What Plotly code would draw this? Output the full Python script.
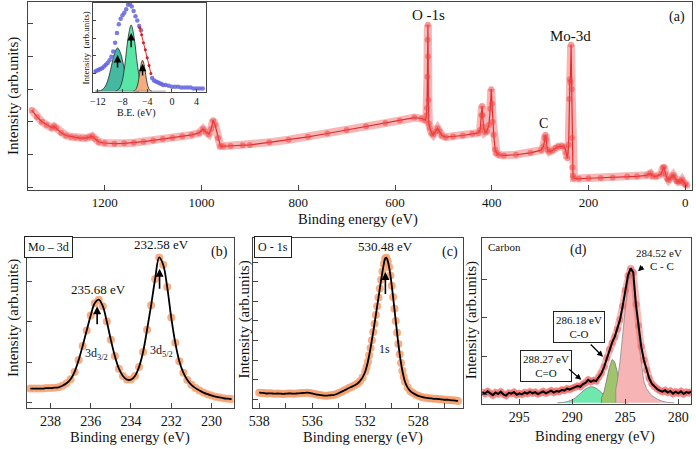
import plotly.graph_objects as go

W, H = 696, 449
FONT = "'Liberation Serif', 'Times New Roman', Times, serif"


def px(x):
    return x / W


def py(y):
    return 1 - y / H


# ---------------- Panel (a): survey spectrum ----------------
survey_be = [1351, 1340, 1330, 1320, 1310, 1305, 1300, 1290, 1280, 1270, 1260, 1250, 1240,
             1232, 1226, 1220, 1212, 1200, 1180, 1160, 1140, 1120, 1100, 1080, 1060, 1040,
             1020, 1005, 997, 992, 985, 980, 976, 972, 966, 961, 955, 940, 915, 900, 860,
             820, 780, 740, 700, 660, 620, 590, 560, 545, 537, 535, 534, 533, 532.5, 532,
             531.5, 531, 530, 528, 524, 521, 516, 512, 508, 503, 495, 480, 460, 440, 428,
             424, 421, 420, 419, 417, 414, 410, 406, 403, 401, 399.5, 398, 396, 393, 390,
             385, 375, 350, 320, 298, 293, 290, 289, 287.5, 285, 281, 275, 268, 262, 255,
             249, 246, 243.5, 241, 239.5, 238.5, 237.5, 236, 235, 234, 233, 232, 230, 220,
             200, 175, 150, 120, 100, 80, 72, 68, 60, 50, 46, 44, 41, 37, 34, 29, 25, 22,
             18, 14, 10, 7, 4, 0, -4]
survey_int = [2.36, 2.15, 2.00, 1.90, 1.82, 1.86, 1.80, 1.66, 1.58, 1.54, 1.52, 1.50, 1.50,
              1.53, 1.56, 1.48, 1.38, 1.35, 1.33, 1.34, 1.36, 1.39, 1.43, 1.47, 1.51, 1.56,
              1.60, 1.66, 1.78, 1.70, 1.62, 1.78, 2.05, 1.90, 1.50, 1.26, 1.25, 1.26, 1.28,
              1.29, 1.37, 1.45, 1.54, 1.64, 1.75, 1.86, 1.96, 2.04, 2.13, 2.10, 2.05, 2.20,
              2.42, 3.38, 4.51, 4.97, 4.00, 2.67, 1.95, 1.80, 1.65, 1.60, 1.70, 1.80, 1.70,
              1.58, 1.53, 1.55, 1.58, 1.63, 1.66, 1.75, 2.20, 2.48, 2.20, 1.85, 1.68, 1.72,
              1.90, 2.40, 3.00, 2.55, 2.00, 1.60, 1.15, 1.04, 0.99, 0.97, 0.99, 1.05, 1.13,
              1.25, 1.50, 1.60, 1.45, 1.15, 1.08, 1.12, 1.20, 1.24, 1.25, 1.22, 1.05, 0.88,
              1.30, 2.70, 3.30, 3.20, 4.36, 3.00, 1.50, 0.60, 0.35, 0.27, 0.26, 0.27, 0.28,
              0.29, 0.32, 0.33, 0.36, 0.42, 0.34, 0.33, 0.40, 0.58, 0.62, 0.40, 0.25, 0.22,
              0.30, 0.37, 0.30, 0.18, 0.16, 0.18, 0.23, 0.15, 0.08, 0.05]
survey_xticks = [1200, 1000, 800, 600, 400, 200, 0]

# ---------------- Inset: valence band ----------------
vb_be = [-12.5, -12.2, -11.9, -11.6, -11.3, -11.0, -10.7, -10.4, -10.1, -9.8, -9.5, -9.2,
         -8.9, -8.6, -8.3, -8.0, -7.7, -7.4, -7.1, -6.8, -6.5, -6.2, -5.9, -5.6, -5.3,
         -5.0, -3.2, -2.9, -2.6, -2.3, -2.0, -1.7, -1.4, -1.0, -0.5, 0.0, 0.5, 1.0, 1.5,
         2.0, 2.5, 3.0, 3.5, 4.0, 4.5, 5.0]
vb_int = [0.22, 0.23, 0.24, 0.25, 0.26, 0.28, 0.30, 0.32, 0.35, 0.39, 0.45, 0.55, 0.66,
          0.76, 0.82, 0.86, 0.89, 0.93, 0.98, 0.99, 0.96, 0.91, 0.85, 0.80, 0.74, 0.69,
          0.15, 0.12, 0.11, 0.10, 0.09, 0.08, 0.07, 0.07, 0.06, 0.05, 0.05, 0.05, 0.04,
          0.04, 0.04, 0.04, 0.03, 0.03, 0.03, 0.03]
edge_be = [-5.2, -4.9, -4.6, -4.3, -4.0, -3.7, -3.4]
edge_int = [0.72, 0.64, 0.55, 0.47, 0.38, 0.29, 0.20]
vb_peak1_be = [-12.3, -11.8, -11.3, -10.8, -10.3, -9.8, -9.3, -8.8, -8.3, -7.8, -7.3, -6.8,
               -6.3, -5.8, -5.3]
vb_peak1_int = [0.001, 0.003, 0.015, 0.053, 0.141, 0.282, 0.427, 0.49, 0.427, 0.282, 0.141,
                0.053, 0.015, 0.003, 0.001]
vb_peak2_be = [-9.1, -8.6, -8.1, -7.6, -7.1, -6.6, -6.1, -5.6, -5.1, -4.6, -4.1]
vb_peak2_int = [0.003, 0.021, 0.101, 0.308, 0.60, 0.75, 0.60, 0.308, 0.101, 0.021, 0.003]
vb_peak3_be = [-6.25, -6.0, -5.75, -5.5, -5.25, -5.0, -4.75, -4.5, -4.25, -4.0, -3.75, -3.5,
               -3.25]
vb_peak3_int = [0.001, 0.007, 0.030, 0.087, 0.189, 0.30, 0.35, 0.30, 0.189, 0.087, 0.030,
                0.007, 0.001]
vb_xticks = [-12, -8, -4, 0, 4]

# ---------------- Panel (b): Mo 3d ----------------
mo_be = [239.0, 238.8, 238.6, 238.4, 238.2, 238.0, 237.8, 237.6, 237.4, 237.2, 237.0, 236.8,
         236.6, 236.4, 236.2, 236.0, 235.8, 235.6, 235.4, 235.2, 235.0, 234.8, 234.6, 234.4,
         234.2, 234.0, 233.8, 233.6, 233.4, 233.2, 233.0, 232.8, 232.6, 232.4, 232.2, 232.0,
         231.8, 231.6, 231.4, 231.2, 231.0, 230.8, 230.6, 230.4, 230.2, 230.0, 229.8, 229.6,
         229.4, 229.2, 229.0]
mo_int = [0.35, 0.35, 0.35, 0.35, 0.36, 0.36, 0.37, 0.38, 0.42, 0.48, 0.58, 0.76, 1.05,
          1.40, 1.78, 2.15, 2.45, 2.54, 2.38, 2.00, 1.55, 1.15, 0.84, 0.66, 0.57, 0.57, 0.66,
          0.88, 1.25, 1.80, 2.40, 3.05, 3.58, 3.40, 2.85, 2.10, 1.48, 1.02, 0.74, 0.56, 0.44,
          0.36, 0.30, 0.25, 0.21, 0.18, 0.15, 0.13, 0.11, 0.10, 0.09]
mo_xticks = [238, 236, 234, 232, 230]

# ---------------- Panel (c): O 1s ----------------
o_be = [540.0, 539.8, 539.6, 539.4, 539.2, 539.0, 538.8, 538.6, 538.4, 538.2, 538.0, 537.8,
        537.6, 537.4, 537.2, 537.0, 536.8, 536.6, 536.4, 536.2, 536.0, 535.8, 535.6, 535.4,
        535.2, 535.0, 534.8, 534.6, 534.4, 534.2, 534.0, 533.8, 533.6, 533.4, 533.2, 533.0,
        532.8, 532.6, 532.4, 532.2, 532.0, 531.9, 531.8, 531.7, 531.6, 531.5, 531.4, 531.3,
        531.2, 531.1, 531.0, 530.9, 530.8, 530.7, 530.6, 530.5, 530.4, 530.3, 530.2, 530.1,
        530.0, 529.9, 529.8, 529.7, 529.6, 529.5, 529.4, 529.3, 529.2, 529.1, 529.0, 528.8,
        528.6, 528.4, 528.2, 528.0, 527.8, 527.6, 527.4, 527.2, 527.0, 526.8, 526.6, 526.4,
        526.2, 526.0, 525.8, 525.6, 525.4, 525.2, 525.0]
o_int = [0.34, 0.33, 0.32, 0.30, 0.31, 0.30, 0.29, 0.30, 0.29, 0.28, 0.29, 0.30, 0.30, 0.29,
         0.30, 0.31, 0.32, 0.33, 0.34, 0.33, 0.30, 0.27, 0.24, 0.22, 0.20, 0.19, 0.20, 0.21,
         0.22, 0.26, 0.32, 0.38, 0.45, 0.52, 0.59, 0.65, 0.72, 0.80, 0.93, 1.12, 1.42, 1.65,
         1.92, 2.25, 2.62, 3.02, 3.43, 3.86, 4.30, 4.75, 5.20, 5.65, 6.10, 6.52, 6.90, 7.18,
         7.22, 7.05, 6.75, 6.32, 5.80, 5.22, 4.62, 4.00, 3.40, 2.82, 2.30, 1.85, 1.46, 1.15,
         0.90, 0.60, 0.42, 0.32, 0.24, 0.18, 0.14, 0.10, 0.08, 0.06, 0.05, 0.03, 0.03, 0.01,
         0.00, -0.02, -0.02, -0.04, -0.05, -0.06, -0.08]
o_tickvals = [540, 536, 532, 528]
o_ticktext = ["538", "536", "532", "528"]
o_minorvals = [538, 534, 530, 526]

# ---------------- Panel (d): C 1s ----------------
c_be = [298.5, 298.25, 298.0, 297.75, 297.5, 297.25, 297.0, 296.75, 296.5, 296.25, 296.0,
        295.75, 295.5, 295.25, 295.0, 294.75, 294.5, 294.25, 294.0, 293.75, 293.5, 293.25,
        293.0, 292.75, 292.5, 292.25, 292.0, 291.75, 291.5, 291.25, 291.0, 290.75, 290.5,
        290.25, 290.0, 289.75, 289.5, 289.25, 289.0, 288.75, 288.5, 288.25, 288.0, 287.75,
        287.5, 287.25, 287.0, 286.75, 286.5, 286.25, 286.0, 285.75, 285.5, 285.25, 285.0,
        284.75, 284.5, 284.25, 284.0, 283.75, 283.5, 283.25, 283.0, 282.75, 282.5, 282.25,
        282.0, 281.75, 281.5, 281.25, 281.0, 280.75, 280.5, 280.25, 280.0, 279.75, 279.5,
        279.25, 279.0, 278.8]
c_int = [0.06, 0.02, 0.08, 0.03, -0.02, 0.05, 0.01, 0.07, 0.00, -0.03, 0.04, 0.02, 0.06,
         -0.01, 0.03, 0.00, 0.05, 0.02, 0.07, 0.03, 0.06, 0.01, 0.04, 0.08, 0.03, 0.06, 0.10,
         0.05, 0.09, 0.07, 0.12, 0.10, 0.15, 0.13, 0.17, 0.19, 0.22, 0.20, 0.27, 0.30, 0.38,
         0.33, 0.37, 0.35, 0.45, 0.55, 0.72, 0.95, 1.18, 1.35, 1.50, 1.70, 1.95, 2.30, 2.72,
         3.10, 3.29, 3.18, 2.35, 1.80, 1.25, 0.90, 0.64, 0.42, 0.28, 0.20, 0.14, 0.10, 0.07,
         0.11, 0.05, 0.09, 0.02, 0.07, 0.03, 0.08, 0.01, 0.06, 0.04, 0.07]
cc_be = [285.9, 285.9, 285.75, 285.5, 285.25, 285.0, 284.75, 284.5, 284.25, 284.0, 283.75,
         283.5, 283.25, 283.0, 282.75, 282.5, 282.0, 281.5, 281.0, 280.4]
cc_int = [-0.22, 0.13, 0.34, 0.85, 1.55, 2.31, 2.93, 3.16, 2.93, 2.31, 1.55, 0.85, 0.34,
          0.15, 0.05, -0.03, -0.12, -0.18, -0.21, -0.22]
co_be = [287.25, 287.25, 287.0, 286.75, 286.5, 286.25, 286.0, 285.75, 285.5, 285.25, 285.0,
         285.0]
co_int = [-0.22, -0.10, 0.08, 0.375, 0.71, 0.91, 0.85, 0.57, 0.23, -0.02, -0.15, -0.22]
cdo_be = [291.4, 290.7, 290.2, 289.7, 289.2, 288.7, 288.2, 287.7, 287.2, 286.7, 286.2,
          285.7, 285.2, 284.7]
cdo_int = [-0.22, -0.202, -0.163, -0.084, 0.035, 0.15, 0.20, 0.15, 0.035, -0.084, -0.163,
           -0.202, -0.215, -0.22]
c_xticks = [295, 290, 285, 280]

fig = go.Figure()

# survey
fig.add_trace(go.Scatter(x=survey_be, y=survey_int, mode="lines",
                         line=dict(color="rgba(240,95,95,0.45)", width=8),
                         xaxis="x", yaxis="y", hoverinfo="skip"))
fig.add_trace(go.Scatter(x=survey_be, y=survey_int, mode="lines+markers",
                         line=dict(color="#e52c2c", width=1.2),
                         marker=dict(size=6, color="rgba(238,70,70,0.55)"),
                         xaxis="x", yaxis="y"))

# inset
fig.add_trace(go.Scatter(x=vb_peak1_be, y=vb_peak1_int, mode="lines", fill="toself",
                         fillcolor="#45b8a2", line=dict(color="#222", width=0.8, shape="spline"),
                         xaxis="x2", yaxis="y2"))
fig.add_trace(go.Scatter(x=vb_peak2_be, y=vb_peak2_int, mode="lines", fill="toself",
                         fillcolor="#58e6a6", line=dict(color="#222", width=0.8, shape="spline"),
                         xaxis="x2", yaxis="y2"))
fig.add_trace(go.Scatter(x=vb_peak3_be, y=vb_peak3_int, mode="lines", fill="toself",
                         fillcolor="#f5ab80", line=dict(color="#222", width=0.8, shape="spline"),
                         xaxis="x2", yaxis="y2"))
fig.add_trace(go.Scatter(x=[-12.5, -1.0], y=[0.0, 0.0], mode="lines",
                         line=dict(color="#888", width=0.8), xaxis="x2", yaxis="y2"))
fig.add_trace(go.Scatter(x=vb_be, y=vb_int, mode="markers",
                         marker=dict(size=4.5, color="rgba(100,100,225,0.85)"),
                         xaxis="x2", yaxis="y2"))
fig.add_trace(go.Scatter(x=edge_be, y=edge_int, mode="lines+markers",
                         line=dict(color="#e03030", width=1),
                         marker=dict(size=3, color="#d02020"),
                         xaxis="x2", yaxis="y2"))

# (b)
fig.add_trace(go.Scatter(x=mo_be, y=mo_int, mode="markers",
                         marker=dict(size=8, color="rgba(244,160,110,0.85)"),
                         xaxis="x3", yaxis="y3"))
fig.add_trace(go.Scatter(x=mo_be, y=mo_int, mode="lines",
                         line=dict(color="black", width=1.8, shape="spline"),
                         xaxis="x3", yaxis="y3"))

# (c)
fig.add_trace(go.Scatter(x=o_be, y=o_int, mode="markers",
                         marker=dict(size=8, color="rgba(244,160,110,0.85)"),
                         xaxis="x4", yaxis="y4"))
fig.add_trace(go.Scatter(x=o_be, y=o_int, mode="lines",
                         line=dict(color="black", width=1.8, shape="spline"),
                         xaxis="x4", yaxis="y4"))

# (d)
fig.add_trace(go.Scatter(x=cdo_be, y=cdo_int, mode="lines", fill="toself",
                         fillcolor="#6ee8ad", line=dict(color="#777", width=0.8, shape="spline"),
                         xaxis="x5", yaxis="y5"))
fig.add_trace(go.Scatter(x=co_be, y=co_int, mode="lines", fill="toself",
                         fillcolor="#9fc46c", line=dict(color="#777", width=0.8),
                         xaxis="x5", yaxis="y5"))
fig.add_trace(go.Scatter(x=cc_be, y=cc_int, mode="lines", fill="toself",
                         fillcolor="#f7b4b4", line=dict(color="#888", width=0.8),
                         xaxis="x5", yaxis="y5"))
fig.add_trace(go.Scatter(x=c_be, y=c_int, mode="lines+markers",
                         line=dict(color="rgba(240,100,100,0.45)", width=7),
                         marker=dict(size=7, color="rgba(240,90,90,0.5)"),
                         xaxis="x5", yaxis="y5"))
fig.add_trace(go.Scatter(x=c_be, y=c_int, mode="lines",
                         line=dict(color="black", width=2),
                         xaxis="x5", yaxis="y5"))

axcol = "#444"
base_x = dict(showline=True, mirror=True, linecolor=axcol, linewidth=1, ticks="inside",
              ticklen=5, tickcolor=axcol, showgrid=False, zeroline=False,
              tickfont=dict(family=FONT, size=14, color="#111"))
base_y = dict(showline=True, mirror=True, linecolor=axcol, linewidth=1, ticks="inside",
              ticklen=5, tickcolor=axcol, showgrid=False, zeroline=False,
              showticklabels=False)

fig.update_layout(
    width=W, height=H, margin=dict(l=0, r=0, t=0, b=0),
    paper_bgcolor="white", plot_bgcolor="white", showlegend=False,
    font=dict(family=FONT, color="#111"),
    xaxis=dict(base_x, domain=[px(24), px(692)], range=[1359, -14], tickvals=survey_xticks,
               anchor="y", tickfont=dict(family=FONT, size=13, color="#111")),
    yaxis=dict(base_y, domain=[py(190), py(2)], range=[-0.09, 5.67], tickvals=[0, 1, 2, 3, 4, 5],
               anchor="x"),
    xaxis2=dict(base_x, domain=[px(90), px(203)], range=[-12.7, 5.5], tickvals=vb_xticks,
                ticklen=3, anchor="y2", tickfont=dict(family=FONT, size=10, color="#111")),
    yaxis2=dict(base_y, domain=[py(92), py(3)], range=[-0.01, 1.0],
                tickvals=[0, 0.2, 0.4, 0.6, 0.8], ticklen=3, anchor="x2"),
    xaxis3=dict(base_x, domain=[px(23), px(231)], range=[239.17, 228.9], tickvals=mo_xticks,
                anchor="y3"),
    yaxis3=dict(base_y, domain=[py(408), py(238)], range=[-0.13, 4.06], tickvals=[0, 1, 2, 3],
                anchor="x3"),
    xaxis4=dict(base_x, domain=[px(250), px(462)], range=[540.5, 524.6], tickvals=o_tickvals,
                ticktext=o_ticktext, anchor="y4",
                minor=dict(tickmode="array", tickvals=o_minorvals, ticks="inside", ticklen=5,
                           tickcolor=axcol)),
    yaxis4=dict(base_y, domain=[py(408), py(238)], range=[-0.44, 8.23],
                tickvals=[0, 1, 2, 3, 4, 5, 6, 7], anchor="x4"),
    xaxis5=dict(base_x, domain=[px(481), px(691)], range=[298.5, 278.8], tickvals=c_xticks,
                anchor="y5"),
    yaxis5=dict(base_y, domain=[py(404), py(238)], range=[-0.25, 4.08], tickvals=[0, 1, 2, 3],
                anchor="x5"),
)

ann = []


def txt(x, y, s, size=14, angle=0, **kw):
    d = dict(x=px(x), y=py(y), xref="paper", yref="paper", text=s, showarrow=False,
             font=dict(family=FONT, size=size, color="#111"), textangle=angle,
             xanchor="center", yanchor="middle")
    d.update(kw)
    ann.append(d)


def arrow(xr, yr, x0, y0, x1, y1, w=1.6):
    ann.append(dict(x=x1, y=y1, ax=x0, ay=y0, xref=xr, yref=yr, axref=xr, ayref=yr,
                    text="", showarrow=True, arrowhead=2, arrowsize=1, arrowwidth=w,
                    arrowcolor="black"))


# axis titles
txt(356, 219, "Binding energy (eV)", 14.5)
txt(10, 96, "Intensity (arb.units)", 15, -90)
txt(127, 437, "Binding energy (eV)", 14.5)
txt(9, 318, "Intensity (arb.units)", 15, -90)
txt(361, 437, "Binding energy (eV)", 14.5)
txt(241, 320, "Intensity (arb.units)", 15, -90)
txt(594, 436, "Binding energy (eV)", 14.5)
txt(470, 320, "Intensity (arb.units)", 15, -90)
# inset titles
txt(133, 113, "B.E. (eV)", 10)
txt(82, 48, "Intensity  (arb.units)", 9, -90)

# panel (a) labels
txt(427, 15, "O -1s", 15)
txt(570, 36, "Mo-3d", 15)
txt(543, 123, "C", 14)
txt(677, 17, "(a)", 14)

# panel (b)
txt(45, 247, "Mo – 3d", 12, bordercolor="#222", borderwidth=1, borderpad=3, bgcolor="white")
txt(158, 245, "232.58 eV", 13)
txt(95, 289, "235.68 eV", 13)
txt(217, 252, "(b)", 14)
txt(93, 354, "3d<sub>3/2</sub>", 12)
txt(158, 351, "3d<sub>5/2</sub>", 12)
arrow("x3", "y3", 235.68, 1.9, 235.68, 2.38)
arrow("x3", "y3", 232.58, 2.77, 232.58, 3.3)

# panel (c)
txt(271, 247, "O - 1s", 12, bordercolor="#222", borderwidth=1, borderpad=3, bgcolor="white")
txt(384, 246, "530.48 eV", 13)
txt(449, 252, "(c)", 14)
txt(383, 349, "1s", 12)
arrow("x4", "y4", 530.48, 5.3, 530.48, 6.5)

# panel (d)
txt(503, 247, "Carbon", 11)
txt(578, 250, "(d)", 14)
txt(659, 253, "284.52 eV", 11)
txt(662, 266, "C - C", 11)
txt(578, 327, "286.18 eV<br>C-O", 11, bordercolor="#222", borderwidth=1, borderpad=2,
    bgcolor="white")
txt(545, 366, "288.27 eV<br>C=O", 11, bordercolor="#222", borderwidth=1, borderpad=2,
    bgcolor="white")
arrow("x5", "y5", 283.2, 3.37, 283.8, 3.21, 1.2)
arrow("x5", "y5", 288.4, 1.34, 287.1, 0.98, 1.2)
arrow("x5", "y5", 290.45, 0.69, 289.15, 0.38, 1.2)

# inset arrows
arrow("x2", "y2", -8.8, 0.25, -8.8, 0.41, 1.5)
arrow("x2", "y2", -6.6, 0.48, -6.6, 0.66, 1.5)
arrow("x2", "y2", -4.75, 0.16, -4.75, 0.31, 1.5)

fig.update_layout(annotations=ann)

fig.write_html("out.html", config={"displayModeBar": False},
               post_script="document.body.style.margin='0';document.body.style.padding='0';"
                           "document.body.style.overflow='hidden';")
